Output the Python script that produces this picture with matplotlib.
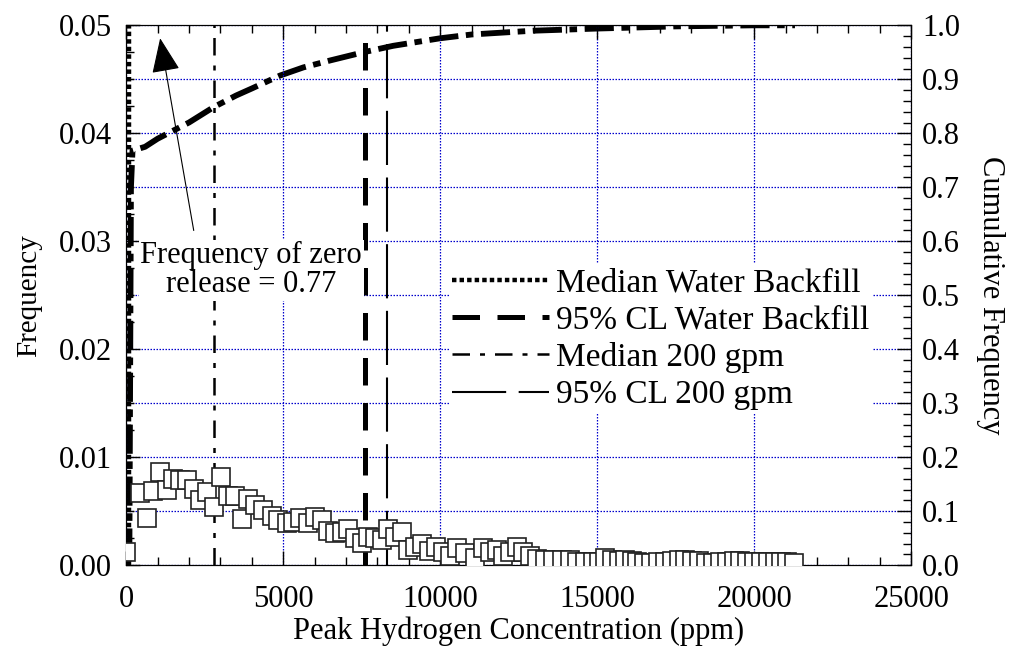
import matplotlib
matplotlib.use('Agg')
import matplotlib.pyplot as plt
from matplotlib.ticker import MultipleLocator

# Frequency histogram (open squares)
freq_x = [0, 450, 670, 860, 1080, 1310, 1500, 1720, 1940, 2170,
          2360, 2580, 2800, 3030, 3250, 3470, 3690, 3880, 4110, 4360,
          4650, 4840, 5130, 5320, 5540, 5800, 6020, 6240, 6430, 6660,
          6880, 7070, 7290, 7520, 7710, 7930, 8150, 8340, 8570, 8790,
          8980, 9200, 9430, 9650, 9870, 10100, 10300, 10540, 10800, 11100,
          11370, 11590, 11820, 12010, 12230, 12450, 12640, 12870, 13090, 13340,
          13600, 13890, 14140, 14360, 14620, 14870, 15050, 15250, 15480, 15700,
          15890, 16100, 16270, 16500, 16720, 16950, 17150, 17380, 17600, 17800,
          18030, 18250, 18470, 18700, 18900, 19130, 19350, 19550, 19780, 20000,
          20230, 20450, 20650, 20870, 21050, 21270]
freq_y = [0.0012, 0.0067, 0.0044, 0.0069, 0.0086, 0.0070, 0.0080, 0.0079, 0.0079, 0.0071,
          0.0060, 0.0068, 0.0054, 0.0082, 0.0064, 0.0064, 0.0043, 0.0061, 0.0056, 0.0051,
          0.0046, 0.0042, 0.0039, 0.0040, 0.0044, 0.0039, 0.0045, 0.0042, 0.0032, 0.0030,
          0.0031, 0.0034, 0.0025, 0.0021, 0.0026, 0.0025, 0.0023, 0.0034, 0.0026, 0.0031,
          0.0014, 0.0017, 0.0020, 0.0013, 0.0017, 0.0012, 0.0009, 0.0016, 0.0011, 0.0007,
          0.0016, 0.0012, 0.0014, 0.0009, 0.0012, 0.0017, 0.0012, 0.0009, 0.0006, 0.0005,
          0.0005, 0.0005, 0.0005, 0.0003, 0.0003, 0.0003, 0.0003, 0.0007, 0.0005, 0.0004,
          0.0005, 0.0004, 0.0003, 0.0002, 0.0002, 0.0003, 0.0003, 0.0004, 0.0005, 0.0005,
          0.0004, 0.0004, 0.0002, 0.0002, 0.0003, 0.0003, 0.0004, 0.0004, 0.0003, 0.0003,
          0.0003, 0.0003, 0.0003, 0.0003, 0.0003, 0.0002]

# Cumulative frequency curve (right axis)
cum_x = [0, 100, 150, 200, 600, 1000, 1500, 2000, 2770, 3500, 4000, 4900,
         5640, 6500, 7550, 8500, 10000, 11000, 12960, 15000, 17500, 20000, 21300]
cum_y = [0.02, 0.02, 0.70, 0.768, 0.775, 0.79, 0.805, 0.82, 0.848, 0.87, 0.883, 0.907,
         0.922, 0.935, 0.95, 0.962, 0.976, 0.983, 0.99, 0.994, 0.998, 1.0, 1.0]

# Reference levels
ref_labels = ['Median Water Backfill', '95% CL Water Backfill',
              'Median 200 gpm', '95% CL 200 gpm']
ref_values = [100, 7600, 2800, 8300]
ref_styles = [dict(lw=3.2, ls=(0, (1.0, 0.7))),
              dict(lw=3.6, ls=(0, (5.5, 3.5))),
              dict(lw=1.8, ls=(0, (7, 4, 2, 4))),
              dict(lw=1.5, ls=(0, (26, 6)))]

plt.rcParams['font.family'] = ['Liberation Serif', 'DejaVu Serif']
plt.rcParams['font.size'] = 22

fig = plt.figure(figsize=(10.18, 6.49), dpi=100)
ax = fig.add_axes([0.124, 0.129, 0.771, 0.832])
ax2 = ax.twinx()

# put the right axis (with its horizontal grid) behind the main one
ax2.set_zorder(ax.get_zorder() - 1)
ax.patch.set_visible(False)
ax2.patch.set_facecolor('white')

grid_kw = dict(color='#0000cc', ls=(0, (1.2, 1.2)), lw=0.9)
ax.grid(axis='x', **grid_kw)
ax2.grid(axis='y', **grid_kw)

for lab, val, st in zip(ref_labels, ref_values, ref_styles):
    ax.axvline(val, color='black', label=lab, **st)

ax2.plot(cum_x, cum_y, color='black', lw=4.2, ls=(0, (5, 1.3, 1.3, 1.3)),
         solid_capstyle='butt')

ax.plot(freq_x, freq_y, ls='none', marker='s', ms=13, mfc='white',
        mec='#222222', mew=1.2, zorder=5)

ax.set_xlim(0, 25000)
ax.set_ylim(0, 0.05)
ax2.set_ylim(0, 1.0)

ax.xaxis.set_major_locator(MultipleLocator(5000))
ax.xaxis.set_minor_locator(MultipleLocator(1000))
ax.yaxis.set_major_locator(MultipleLocator(0.01))
ax.yaxis.set_minor_locator(MultipleLocator(0.0025))
ax.yaxis.set_major_formatter(lambda v, p: f'{v:.2f}')
ax2.yaxis.set_major_locator(MultipleLocator(0.1))
ax2.yaxis.set_minor_locator(MultipleLocator(0.02))
ax2.yaxis.set_major_formatter(lambda v, p: f'{v:.1f}')

ax.tick_params(axis='x', which='both', direction='in', top=True)
ax.tick_params(axis='y', which='both', direction='in', right=False)
ax.tick_params(which='major', length=10, width=1)
ax.tick_params(which='minor', length=6, width=1)
ax2.tick_params(which='both', direction='in')
ax2.tick_params(which='major', length=10, width=1)
ax2.tick_params(which='minor', length=6, width=1)
ax.tick_params(axis='x', pad=14)
ax.tick_params(axis='y', pad=10)
ax2.tick_params(axis='y', pad=8)

ax.set_xlabel('Peak Hydrogen Concentration (ppm)', fontsize=22, labelpad=2)
ax.set_ylabel('Frequency', fontsize=21, labelpad=12)
ax2.set_ylabel('Cumulative Frequency', fontsize=22, rotation=-90, labelpad=32)

# arrow and label for the zero-release note
ax.annotate('', xy=(1080, 0.0488), xytext=(2150, 0.0310),
            arrowprops=dict(arrowstyle='-|>,head_length=1.1,head_width=0.45',
                            mutation_scale=20, lw=0.8, color='black',
                            shrinkA=0, shrinkB=0))
ax.text(3980, 0.0273, 'Frequency of zero\nrelease = 0.77', ha='center',
        va='center', multialignment='center', linespacing=1.0, fontsize=22,
        bbox=dict(fc='white', ec='none', pad=1), zorder=6)

leg = ax.legend(loc='upper left', bbox_to_anchor=(0.39, 0.588), fontsize=24,
                handlelength=2.9, handletextpad=0.2, labelspacing=0.2,
                frameon=True, fancybox=False, framealpha=1, edgecolor='none',
                borderpad=0.1)
leg.set_zorder(7)

fig.savefig('out.png', dpi=100)
